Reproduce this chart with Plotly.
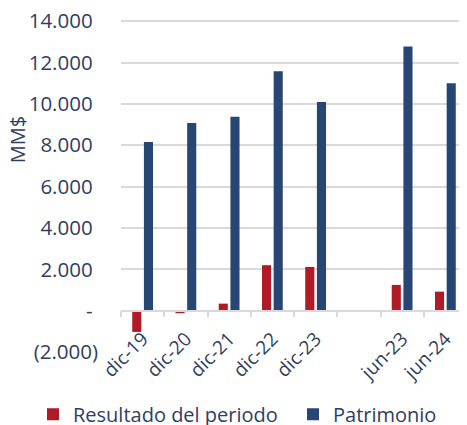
import plotly.graph_objects as go

categories = ["dic-19", "dic-20", "dic-21", "dic-22", "dic-23", " ", "jun-23", "jun-24"]
resultado = [-1030, -125, 340, 2200, 2115, None, 1245, 920]
patrimonio = [8160, 9080, 9385, 11580, 10100, None, 12780, 11000]
y_tickvals = [-2000, 0, 2000, 4000, 6000, 8000, 10000, 12000, 14000]
y_ticktext = ["(2.000)", "-\u00a0", "2.000\u00a0", "4.000\u00a0", "6.000\u00a0", "8.000\u00a0",
              "10.000\u00a0", "12.000\u00a0", "14.000\u00a0"]

RED = "#AF1B27"
BLUE = "#274673"
TXT = "#2F3E5F"
GRID = "#D9D9D9"
FONT = "Open Sans"

# page has an 8px body margin; figure is sized to fill the remaining window
W, H = 459, 417
T, B = 5, 73

fig = go.Figure()
fig.add_trace(go.Bar(x=categories, y=resultado, name="Resultado del periodo",
                     marker=dict(color=RED, line=dict(width=0)), legend="legend"))
fig.add_trace(go.Bar(x=categories, y=patrimonio, name="Patrimonio",
                     marker=dict(color=BLUE, line=dict(width=0)), legend="legend2"))

ymin, ymax = -2000, 14400
leg_common = dict(orientation="h", xref="container", yref="container",
                  xanchor="left", yanchor="middle", y=0.026,
                  font=dict(size=20, color=TXT), bgcolor="rgba(0,0,0,0)",
                  itemwidth=30)
fig.update_layout(
    width=W, height=H,
    margin=dict(l=113, r=0, t=T, b=B, autoexpand=False),
    paper_bgcolor="white", plot_bgcolor="white",
    barmode="group", bargap=0.46, bargroupgap=0.22,
    font=dict(family=FONT, color=TXT, size=18),
    showlegend=True,
    legend=dict(leg_common, x=25 / W),
    legend2=dict(leg_common, x=285 / W),
    xaxis=dict(type="category", categoryorder="array", categoryarray=categories,
               range=[-0.5, len(categories) - 0.5], automargin=False,
               anchor="free", position=(0 - ymin) / (ymax - ymin),
               showline=True, linecolor=GRID, linewidth=1.5,
               ticks="outside", tickson="boundaries", ticklen=6, tickwidth=1.5,
               tickcolor=GRID, tickangle=-45, ticklabelstandoff=9,
               ticklabeloverflow="allow",
               tickfont=dict(size=19, color=TXT), showgrid=False),
    yaxis=dict(range=[ymin, ymax], tickvals=y_tickvals, ticktext=y_ticktext,
               automargin=False, ticklabeloverflow="allow",
               showgrid=True, gridcolor=GRID, gridwidth=1.5, zeroline=False,
               showline=False, ticks="", ticklabelstandoff=22,
               tickfont=dict(size=20.5, color=TXT)),
)
fig.add_annotation(text="MM$", textangle=-90, xref="paper", yref="paper",
                   x=-0.3, y=1 - (140 - 8 - T) / (H - T - B),
                   xanchor="center", yanchor="middle", showarrow=False,
                   font=dict(size=20, color=TXT))

fig.write_html("out.html")
